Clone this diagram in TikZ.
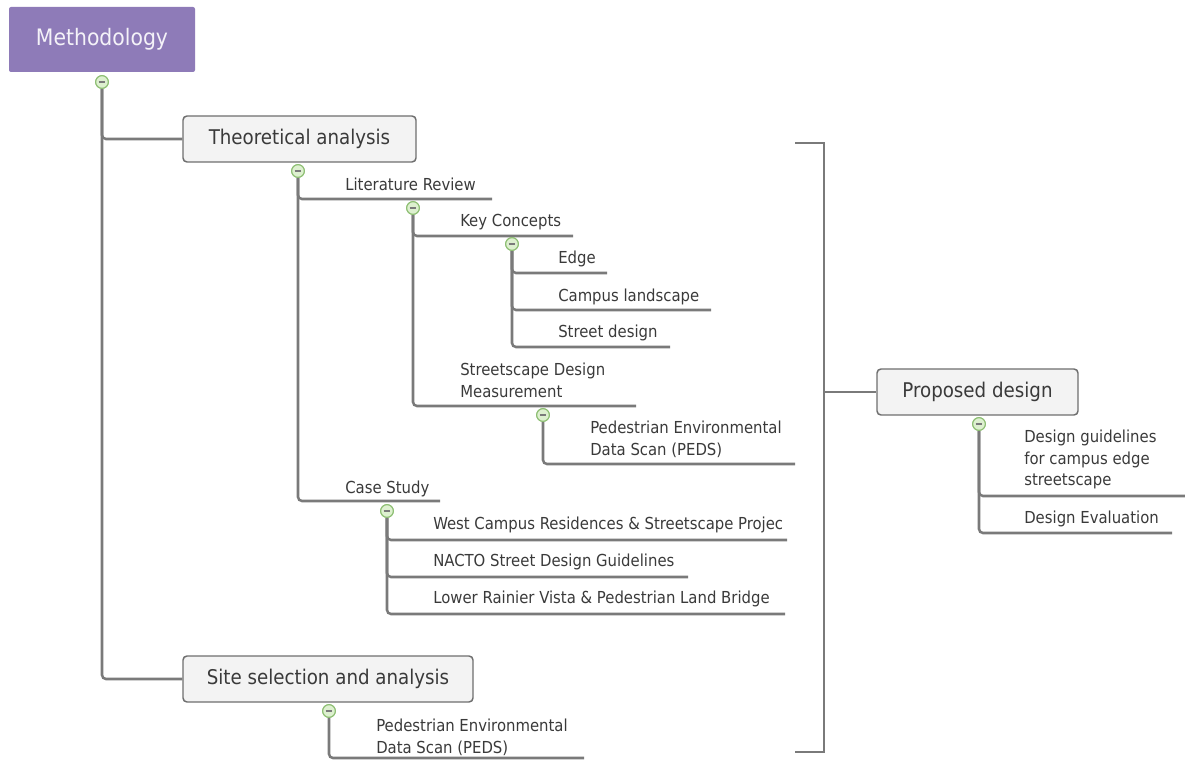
\documentclass[tikz,border=0pt]{standalone}
\usepackage{fontspec}
\setmainfont{DejaVu Sans Condensed}
\usetikzlibrary{calc}
\definecolor{purp}{HTML}{8E7BB8}
\definecolor{boxfill}{HTML}{F3F3F3}
\definecolor{boxline}{HTML}{6E6E6E}
\definecolor{linec}{HTML}{7A7A7A}
\definecolor{txt}{HTML}{3A3A3A}
\definecolor{cfill}{HTML}{DDF0CF}
\definecolor{cline}{HTML}{8DBE72}
\tikzset{
  rootbox/.style={draw=none, fill=purp, rounded corners=1.5pt, text=white!90!purp,
    font=\fontsize{17}{20}\selectfont, minimum width=139.5pt, minimum height=48.75pt, inner sep=0pt},
  mainbox/.style={draw=boxline, fill=boxfill, line width=1.1pt, rounded corners=3pt, text=txt,
    font=\fontsize{15.2}{18}\selectfont, minimum height=34.5pt, inner sep=0pt},
  leaf/.style={anchor=west, inner sep=0pt, text=txt, align=left,
    font=\fontsize{12.4}{16.3}\selectfont},
  conn/.style={draw=linec, line width=1.9pt, rounded corners=3pt},
  toggle/.style={circle, draw=cline, fill=cfill, line width=0.8pt, minimum size=9.5pt, inner sep=0pt,
    path picture={\draw[linec, line width=0.8pt] ([xshift=-2.6pt]path picture bounding box.center) -- ([xshift=2.6pt]path picture bounding box.center);}},
}
\begin{document}
\begin{tikzpicture}[x=0.75pt,y=-0.75pt]
\useasboundingbox (0,0) rectangle (1185,762);

% main boxes
\node[rootbox] (meth) at (102,39.5) {Methodology};
\node[mainbox, minimum width=174.75pt] (theo) at (299.5,139) {Theoretical analysis};
\node[mainbox, minimum width=217.5pt] (site) at (328,679) {Site selection and analysis};
\node[mainbox, minimum width=150.75pt] (prop) at (977.5,392) {Proposed design};

% underline end coordinates
\coordinate (litend) at (492,199);
\coordinate (caseend) at (440,501);
\coordinate (keyend) at (573,236);
\coordinate (smend) at (636,406);
\coordinate (edgeend) at (607,273);
\coordinate (campend) at (711,310);
\coordinate (streetend) at (670,347);
\coordinate (pedsAend) at (795,464);
\coordinate (westend) at (787,540);
\coordinate (nactoend) at (688,577);
\coordinate (lowerend) at (785,614);
\coordinate (pedsBend) at (584,758);
\coordinate (dgend) at (1185,496);
\coordinate (deend) at (1172,533);
\coordinate (brtop) at (795,143);
\coordinate (brbot) at (795,752);
\coordinate (brtopc) at (824,143);
\coordinate (brbotc) at (824,752);
\coordinate (brmid) at (824,392);

% toggles
\node[toggle] (c0) at (102,82) {};
\node[toggle] (c1) at (298,171) {};
\node[toggle] (c2) at (413,208) {};
\node[toggle] (c3) at (512,244) {};
\node[toggle] (c4) at (543,415) {};
\node[toggle] (c5) at (387,511) {};
\node[toggle] (c6) at (329,711) {};
\node[toggle] (c7) at (979,424) {};

% connectors
\draw[conn] (c0.south) |- (theo.west);
\draw[conn] (c0.south) |- (site.west);
\draw[conn] (c1.south) |- (litend);
\draw[conn] (c1.south) |- (caseend);
\draw[conn] (c2.south) |- (keyend);
\draw[conn] (c2.south) |- (smend);
\draw[conn] (c3.south) |- (edgeend);
\draw[conn] (c3.south) |- (campend);
\draw[conn] (c3.south) |- (streetend);
\draw[conn] (c4.south) |- (pedsAend);
\draw[conn] (c5.south) |- (westend);
\draw[conn] (c5.south) |- (nactoend);
\draw[conn] (c5.south) |- (lowerend);
\draw[conn] (c6.south) |- (pedsBend);
\draw[conn] (c7.south) |- (dgend);
\draw[conn] (c7.south) |- (deend);
\draw[draw=linec, line width=1.5pt] (brtop) -- (brtopc) -- (brbotc) -- (brbot);
\draw[draw=linec, line width=1.5pt] (brmid) -- (prop.west);

% redraw toggles on top
\foreach \p in {{102,82},{298,171},{413,208},{512,244},{543,415},{387,511},{329,711},{979,424}}
  \node[toggle] at (\p) {};

% leaf texts
\node[leaf] (lit) at (345,184) {Literature Review};
\node[leaf] (key) at (460,222) {Key Concepts};
\node[leaf] (edge) at (558,259) {Edge};
\node[leaf] (camp) at (558,297) {Campus landscape};
\node[leaf] (street) at (558,333) {Street design};
\node[leaf] (sm) at (460,380) {Streetscape Design\\Measurement};
\node[leaf] (pedsA) at (590,439.5) {Pedestrian Environmental\\Data Scan (PEDS)};
\node[leaf] (case) at (345,489) {Case Study};
\begin{scope}
\clip (430,508) rectangle (789,538);
\node[leaf] (west) at (433,525) {West Campus Residences \& Streetscape Projec};
\end{scope}
\node[leaf] (nacto) at (433,562) {NACTO Street Design Guidelines};
\node[leaf] (lower) at (433,599) {Lower Rainier Vista \& Pedestrian Land Bridge};
\node[leaf] (pedsB) at (376,737.5) {Pedestrian Environmental\\Data Scan (PEDS)};
\node[leaf] (dg) at (1024,459.5) {Design guidelines\\for campus edge\\streetscape};
\node[leaf] (de) at (1024,519) {Design Evaluation};
\end{tikzpicture}
\end{document}
